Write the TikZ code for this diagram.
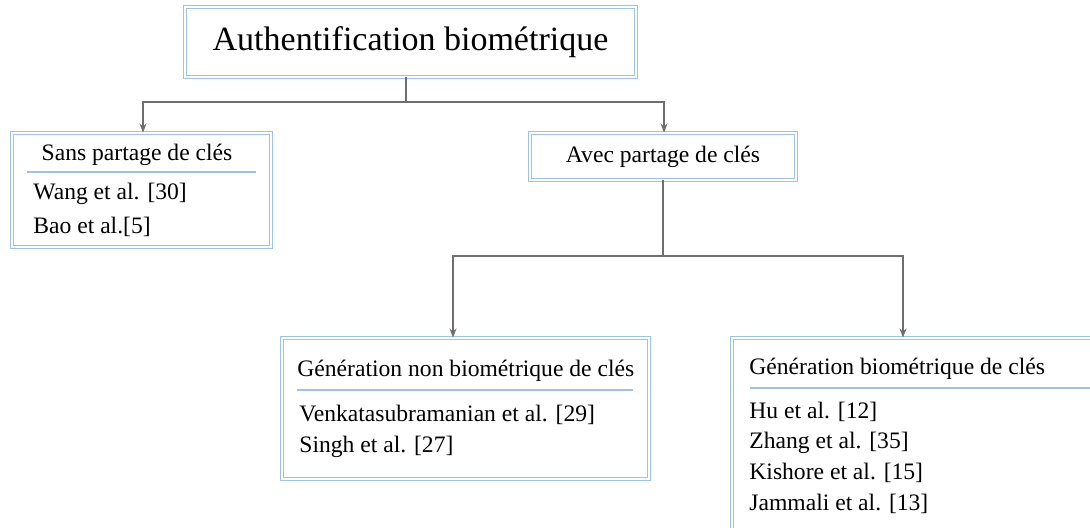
\documentclass[tikz,border=0pt]{standalone}
\usepackage{fontspec}
\setmainfont{Liberation Serif}
\usetikzlibrary{arrows.meta}
\definecolor{boxblue}{RGB}{157,195,232}
\definecolor{linkgray}{RGB}{110,110,110}
\tikzset{
  dblbox/.style={draw=boxblue, line width=0.5pt, double=white,
    double distance=1pt, fill=white, rectangle, inner sep=0pt},
  sepline/.style={draw=boxblue, line width=0.6pt},
  link/.style={draw=linkgray, line width=0.6pt},
  linkarrow/.style={link, -{Stealth[length=4.5pt,width=3.5pt]}},
  txt/.style={inner sep=0pt, font=\fontsize{11.8}{14}\selectfont},
  item/.style={txt, anchor=west}
}
\begin{document}
\begin{tikzpicture}[x=0.5pt,y=-0.5pt]
\useasboundingbox (0,0) rectangle (1090,528);
% Boxes
\node[dblbox, minimum width=225.5pt, minimum height=35pt] (auth) at (410.5,42)
  {\fontsize{17}{20}\selectfont Authentification biométrique};
\node[dblbox, minimum width=129.5pt, minimum height=57pt] (sans) at (141.5,190) {};
\node[dblbox, minimum width=133pt, minimum height=23.5pt] (avec) at (663,156.5)
  {\fontsize{11.8}{14}\selectfont Avec partage de clés};
\node[dblbox, minimum width=183.5pt, minimum height=70.5pt] (nonbio) at (465.5,408.5) {};
\node[dblbox, minimum width=184pt, minimum height=101pt] (bio) at (916,439) {};

% Sans partage de cles
\node[txt] (sanstitle) at (137,155) {Sans partage de clés};
\draw[sepline] (27,172) -- (256,172);
\node[item] (wang) at (33,194) {Wang et al. [30]};
\node[item] (bao) at (33,227) {Bao et al.[5]};

% Generation non biometrique
\node[txt, anchor=west] (nonbiotitle) at (297,371) {Génération non biométrique de clés};
\draw[sepline] (297,390) -- (633,390);
\node[item] (venk) at (299,415) {Venkatasubramanian et al. [29]};
\node[item] (singh) at (299,447) {Singh et al. [27]};

% Generation biometrique
\node[txt, anchor=west] (biotitle) at (749,369) {Génération biométrique de clés};
\draw[sepline] (750,388) -- (1090,388);
\node[item] (hu) at (749,412) {Hu et al. [12]};
\node[item] (zhang) at (749,443) {Zhang et al. [35]};
\node[item] (kishore) at (749,473) {Kishore et al. [15]};
\node[item] (jammali) at (749,504) {Jammali et al. [13]};

% Links
\coordinate (split1) at (406,102);
\coordinate (split2) at (663,256);
\draw[link] ([xshift=-2.25pt]auth.south) -- (split1);
\draw[linkarrow] (split1) -| ([xshift=0.75pt]sans.north);
\draw[linkarrow] (split1) -| ([xshift=0.5pt]avec.north);
\draw[link] (avec.south) -- (split2);
\draw[linkarrow] (split2) -| ([xshift=-6.25pt]nonbio.north);
\draw[linkarrow] (split2) -| ([xshift=-6.5pt]bio.north);
\end{tikzpicture}
\end{document}
